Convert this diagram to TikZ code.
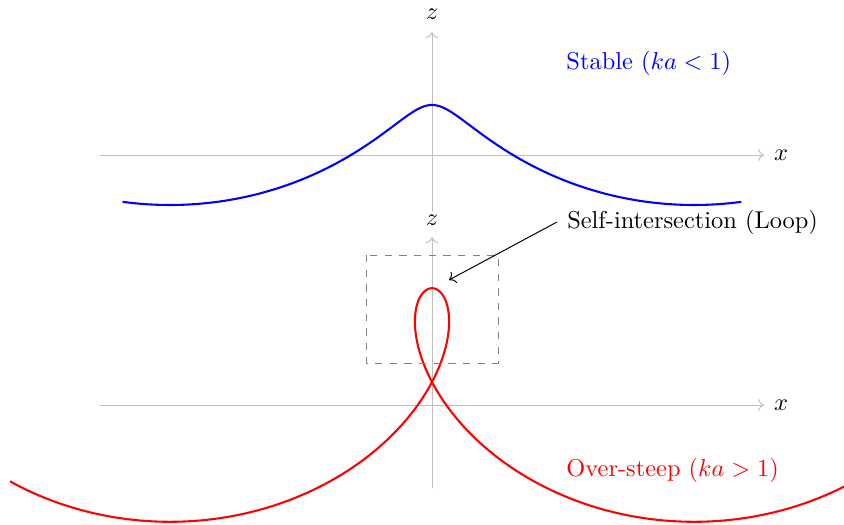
\documentclass[tikz,border=0pt]{standalone}
\usetikzlibrary{arrows.meta}
\begin{document}
\begin{tikzpicture}[x=0.4098pt,y=-0.4098pt,
  axisline/.style={black!25,line width=0.4pt,->},
  wave/.style={line width=0.85pt},
  lbl/.style={inner sep=0pt},
  note/.style={inner sep=0pt,anchor=west}]
\useasboundingbox (0,0) rectangle (844,525);
\clip (0,0) rectangle (844,525);
% --- top panel (stable)
\coordinate (bxl) at (100,155);
\coordinate (bxr) at (764,155);
\coordinate (bzb) at (432,212);
\coordinate (bzt) at (432,32);
\draw[axisline] (bxl) -- (bxr);
\draw[axisline] (bzb) -- (bzt);
\node[lbl] (bxlab) at (781,155) {$x$};
\node[lbl] (bzlab) at (432,14) {$z$};
\draw[wave,blue] plot[domain=-3.5:3.5,samples=300,variable=\t]
  ({432+83.4*\t-50.0*sin(\t r)},{155-50.0*cos(\t r)});
\node[note,blue] (stable) at (566,63) {Stable ($ka<1$)};
% --- bottom panel (over-steep)
\coordinate (rxl) at (100,405);
\coordinate (rxr) at (764,405);
\coordinate (rzb) at (432,488);
\coordinate (rzt) at (432,237);
\draw[axisline] (rxl) -- (rxr);
\draw[axisline] (rzb) -- (rzt);
\node[lbl] (rxlab) at (781,405) {$x$};
\node[lbl] (rzlab) at (432,220) {$z$};
\draw[wave,red] plot[domain=-4:4,samples=400,variable=\t]
  ({432+83.4*\t-116.8*sin(\t r)},{405-116.8*cos(\t r)});
\node[note,red] (steep) at (566,470) {Over-steep ($ka>1$)};
% --- loop highlight
\draw[gray,dashed,line width=0.4pt] (366,255) rectangle (498,363);
\node[note,inner sep=4pt] (loop) at (557,222) {Self-intersection (Loop)};
\coordinate (looptip) at (449,280);
\draw[->,line width=0.4pt] (loop.west) -- (looptip);
\end{tikzpicture}
\end{document}
